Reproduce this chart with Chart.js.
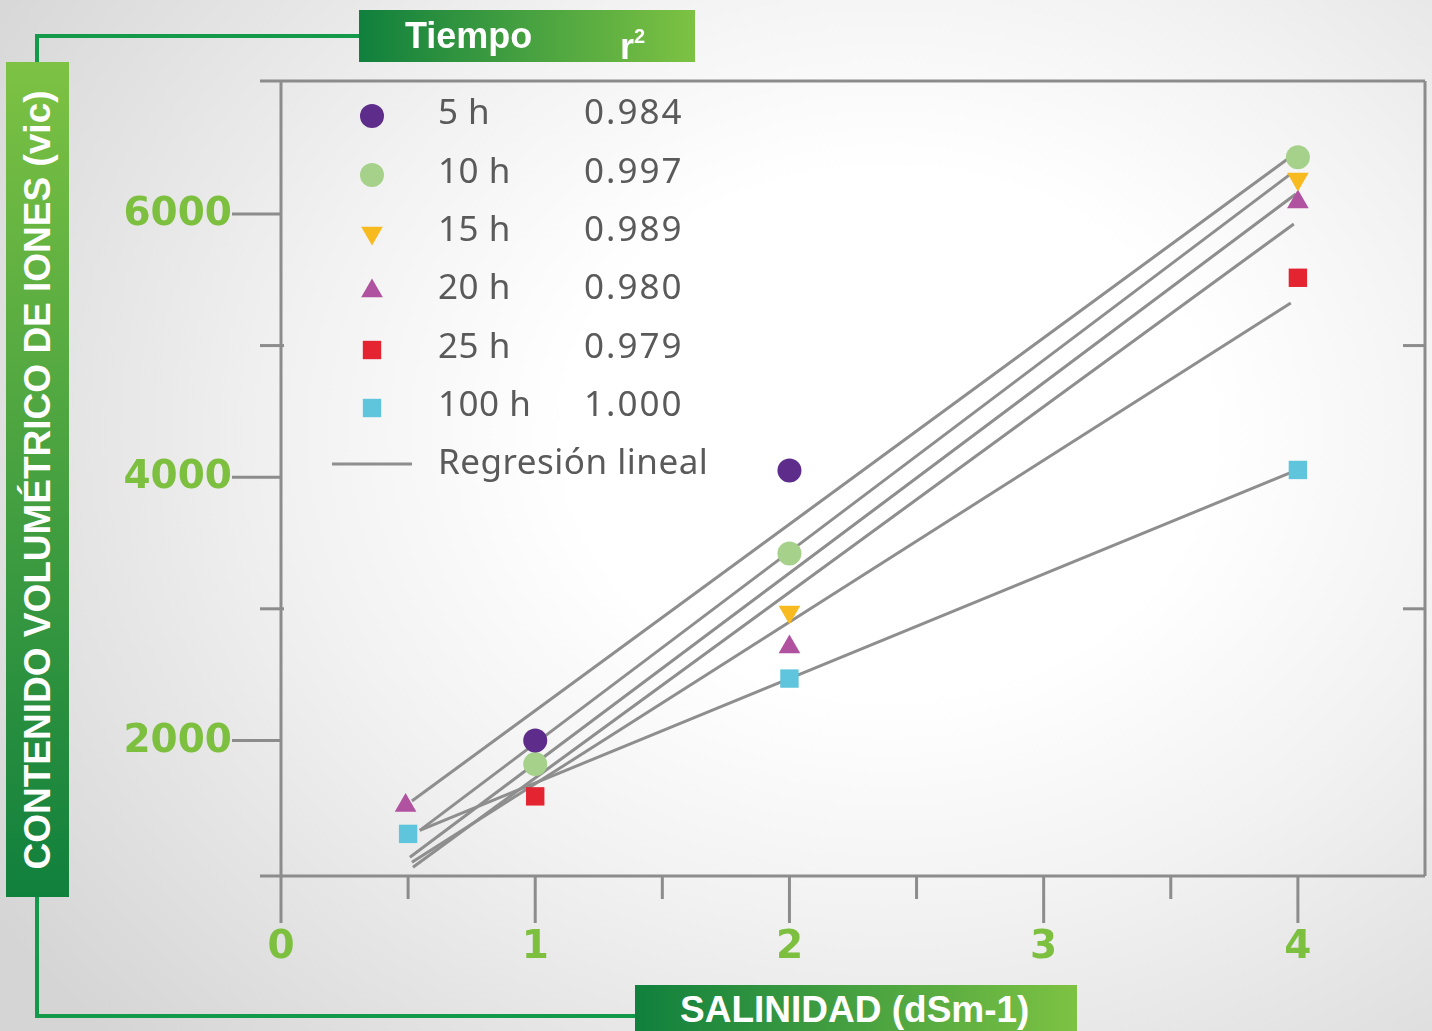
<!DOCTYPE html>
<html lang="es">
<head>
<meta charset="utf-8">
<title>Contenido volumétrico de iones vs salinidad</title>
<script src="https://cdn.jsdelivr.net/npm/chart.js@4.4.1/dist/chart.umd.min.js"></script>
<style>
  html, body { margin: 0; padding: 0; }
  body {
    width: 1432px; height: 1031px; overflow: hidden; position: relative;
    background: radial-gradient(ellipse 75% 85% at 62% 42%, #ffffff 30%, #f2f2f2 55%, #d5d5d5 100%);
    font-family: 'Liberation Sans', Arial, sans-serif;
  }
  #chart { position: absolute; left: 0; top: 0; }
  .box { position: absolute; color: #fff; font-weight: bold; white-space: nowrap; }
  .conn { position: absolute; background: #12994a; }
  #titleBox { left: 359px; top: 10px; width: 336px; height: 52px;
    background: linear-gradient(90deg, #10803d, #7dc243); font-size: 36px; line-height: 52px; }
  #yBox { left: 6px; top: 62px; width: 63px; height: 835px;
    background: linear-gradient(0deg, #10803d, #7dc243); }
  #yBox span { position: absolute; left: 50%; top: 50%; font-size: 37px;
    transform: translate(-50%, -50%) rotate(-90deg); }
  #xBox { left: 635px; top: 985px; width: 442px; height: 46px;
    background: linear-gradient(90deg, #10803d, #7dc243); font-size: 37px; line-height: 50px; }
</style>
</head>
<body>
<div class="conn" style="left:35px;top:34px;width:4px;height:30px"></div>
<div class="conn" style="left:35px;top:34px;width:326px;height:4px"></div>
<div class="conn" style="left:35px;top:895px;width:4px;height:123px"></div>
<div class="conn" style="left:35px;top:1014px;width:602px;height:4px"></div>
<canvas id="chart" width="1432" height="1031"></canvas>
<div class="box" id="titleBox">
  <span style="position:absolute;left:46px">Tiempo</span>
  <span style="position:absolute;left:261px">r<sup style="font-size:20px;vertical-align:16px">2</sup></span>
</div>
<div class="box" id="yBox"><span>CONTENIDO VOLUMÉTRICO DE IONES (vic)</span></div>
<div class="box" id="xBox"><span style="position:absolute;left:45px">SALINIDAD (dSm-1)</span></div>
<script>
// Salinidad (dSm-1) y contenido volumétrico de iones por tiempo
const X_5H = [1, 2];
const Y_5H = [2000, 4050];
const X_10H = [1, 2, 4];
const Y_10H = [1820, 3420, 6430];
const X_15H = [2, 4];
const Y_15H = [2975, 6265];
const X_20H = [0.49, 2, 4];
const Y_20H = [1505, 2710, 6090];
const X_25H = [1, 4];
const Y_25H = [1575, 5515];
const X_100H = [0.5, 2, 4];
const Y_100H = [1290, 2470, 4055];

// regresiones lineales (extremo inicial y final de cada recta)
const REG_X0 = [0.515, 0.546, 0.507, 0.519, 0.515, 0.546];
const REG_Y0 = [1540, 1317, 1112, 1036, 1074, 1317];
const REG_X1 = [3.965, 3.972, 3.992, 3.984, 3.972, 4.0];
const REG_Y1 = [6425, 6304, 6152, 5924, 5324, 4057];

const SERIES_LABELS = ['5 h', '10 h', '15 h', '20 h', '25 h', '100 h'];
const R2_LABELS = ['0.984', '0.997', '0.989', '0.980', '0.979', '1.000'];
const REG_LABEL = 'Regresión lineal';

const X_MAJOR = [0, 1, 2, 3, 4];
const X_MINOR = [0.5, 1.5, 2.5, 3.5];
const Y_MAJOR = [2000, 4000, 6000];
const Y_MINOR = [3000, 5000];

const COLORS = ['#5e2d8c', '#a6d18b', '#f7bb1f', '#b0529f', '#e42431', '#5fc5dd'];
const STYLES = ['circle', 'circle', 'triangle', 'triangle', 'rect', 'rect'];
const ROTATIONS = [0, 0, 180, 0, 0, 0];
const RADII = [12, 12, 12.5, 12.5, 13, 13];

const AXIS_COLOR = '#8c8c8c';
const TICK_GREEN = '#7dbf3f';
const TEXT_GRAY = '#5a5a5a';

const pts = (xs, ys) => xs.map((x, i) => ({ x, y: ys[i] }));
const seriesPoints = [
  pts(X_5H, Y_5H), pts(X_10H, Y_10H), pts(X_15H, Y_15H),
  pts(X_20H, Y_20H), pts(X_25H, Y_25H), pts(X_100H, Y_100H),
];

const regressionSets = REG_X0.map((x0, i) => ({
  label: 'reg' + i,
  data: [{ x: x0, y: REG_Y0[i] }, { x: REG_X1[i], y: REG_Y1[i] }],
  showLine: true,
  borderColor: '#8e8e8e',
  borderWidth: 3,
  pointRadius: 0,
  order: 2,
}));

const markerSets = seriesPoints.map((data, i) => ({
  label: SERIES_LABELS[i],
  data,
  pointStyle: STYLES[i],
  rotation: ROTATIONS[i],
  pointRadius: RADII[i],
  backgroundColor: COLORS[i],
  borderColor: COLORS[i],
  borderWidth: 0,
  order: 1,
}));

function line(ctx, x1, y1, x2, y2) {
  ctx.beginPath();
  ctx.moveTo(x1, y1);
  ctx.lineTo(x2, y2);
  ctx.stroke();
}

const framePlugin = {
  id: 'frame',
  beforeDatasetsDraw(chart) {
    const { ctx, chartArea: a, scales: { x, y } } = chart;
    ctx.save();
    ctx.strokeStyle = AXIS_COLOR;
    ctx.lineWidth = 3;
    line(ctx, a.left - 21, a.top, a.right, a.top);
    line(ctx, a.right, a.top, a.right, a.bottom);
    line(ctx, a.left - 21, a.bottom, a.right, a.bottom);
    X_MAJOR.forEach((v) => {
      const px = x.getPixelForValue(v);
      line(ctx, px, v === 0 ? a.top : a.bottom, px, a.bottom + 47);
    });
    X_MINOR.forEach((v) => {
      const px = x.getPixelForValue(v);
      line(ctx, px, a.bottom, px, a.bottom + 23);
    });
    Y_MAJOR.forEach((v) => {
      const py = y.getPixelForValue(v);
      line(ctx, a.left - 49, py, a.left, py);
    });
    Y_MINOR.forEach((v) => {
      const py = y.getPixelForValue(v);
      line(ctx, a.left - 21, py, a.left + 3, py);
      line(ctx, a.right - 22, py, a.right, py);
    });
    ctx.restore();
  },
  afterDraw(chart) {
    const { ctx, chartArea: a, scales: { x, y } } = chart;
    ctx.save();
    ctx.fillStyle = TICK_GREEN;
    ctx.font = 'bold 39px "DejaVu Sans"';
    ctx.textBaseline = 'middle';
    ctx.textAlign = 'right';
    Y_MAJOR.forEach((v) => ctx.fillText(String(v), a.left - 49, y.getPixelForValue(v) + 1));
    ctx.textAlign = 'center';
    X_MAJOR.forEach((v) => ctx.fillText(String(v), x.getPixelForValue(v), a.bottom + 72));

    // leyenda
    const rowY = [114, 173, 231, 289, 348, 406, 464];
    ctx.textAlign = 'left';
    SERIES_LABELS.forEach((lab, i) => {
      ctx.fillStyle = COLORS[i];
      Chart.helpers.drawPoint(ctx, {
        pointStyle: STYLES[i], rotation: ROTATIONS[i], radius: RADII[i], borderWidth: 0,
      }, 372, rowY[i] + 2);
      ctx.fillStyle = TEXT_GRAY;
      ctx.font = '35px "Noto Sans"';
      ctx.letterSpacing = '0.5px';
      ctx.fillText(lab, 438, rowY[i]);
      ctx.letterSpacing = '2px';
      ctx.fillText(R2_LABELS[i], 584, rowY[i]);
    });
    ctx.strokeStyle = '#8e8e8e';
    ctx.lineWidth = 3;
    line(ctx, 332, rowY[6], 412, rowY[6]);
    ctx.letterSpacing = '0.5px';
    ctx.fillText(REG_LABEL, 438, rowY[6]);
    ctx.restore();
  },
};

new Chart(document.getElementById('chart').getContext('2d'), {
  type: 'scatter',
  data: { datasets: [...regressionSets, ...markerSets] },
  options: {
    responsive: false,
    animation: false,
    events: [],
    layout: { autoPadding: false, padding: { left: 281, top: 81, right: 7, bottom: 155 } },
    scales: {
      x: { type: 'linear', min: 0, max: 4.5, display: false },
      y: { type: 'linear', min: 970, max: 7010, display: false },
    },
    plugins: { legend: { display: false }, tooltip: { enabled: false } },
    elements: { point: { hoverRadius: 0 } },
  },
  plugins: [framePlugin],
});
</script>
</body>
</html>
